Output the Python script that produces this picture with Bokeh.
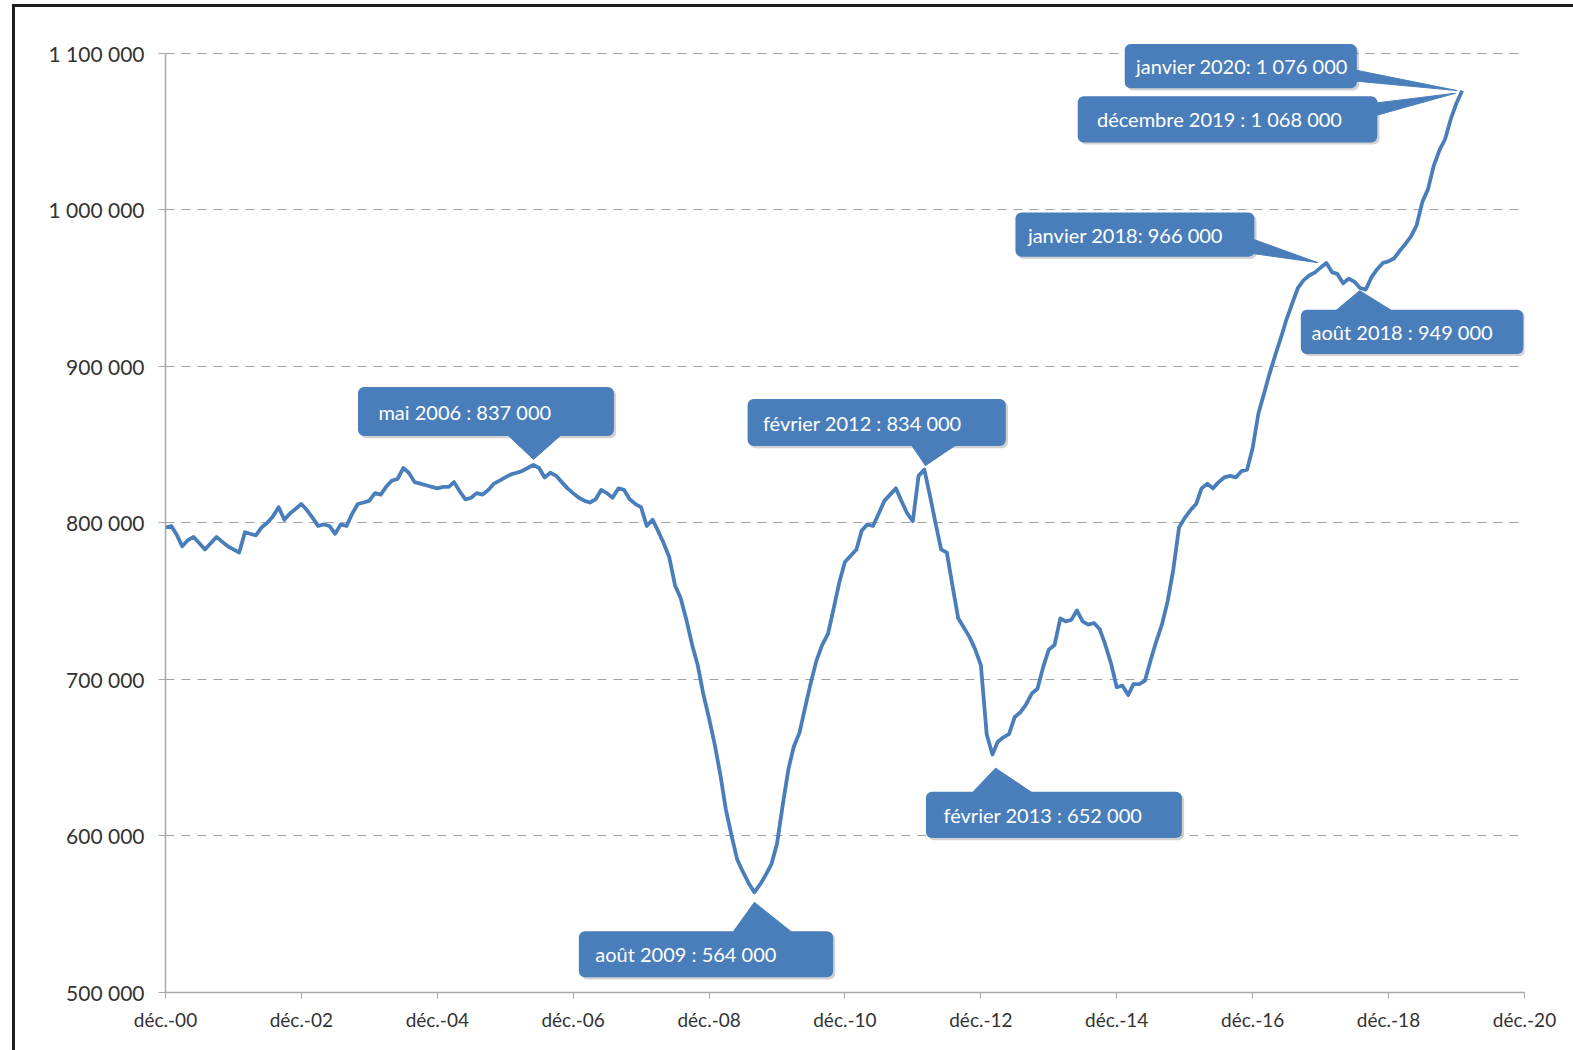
import pandas as pd
from bokeh.plotting import figure
from bokeh.models import Range1d, FixedTicker, BoxAnnotation, ColumnDataSource
from bokeh.core.properties import value
from bokeh.embed import file_html
from bokeh.resources import INLINE

# ---------------- data (monthly, thousands) ----------------
start_month = "2000-12-01"
values_k = [
    797, 798, 792, 785, 789, 791, 787, 783, 787, 791, 788, 785,   # déc 00 - nov 01
    783, 781, 794, 793, 792, 797, 800, 804, 810, 802, 806, 809,   # déc 01 - nov 02
    812, 808, 803, 798, 799, 798, 793, 799, 798, 806, 812, 813,   # déc 02 - nov 03
    814, 819, 818, 823, 827, 828, 835, 832, 826, 825, 824, 823,   # déc 03 - nov 04
    822, 823, 823, 826, 820, 815, 816, 819, 818, 821, 825, 827,   # déc 04 - nov 05
    829, 831, 832, 833, 835, 837, 835, 829, 832, 830, 826, 822,   # déc 05 - nov 06
    819, 816, 814, 813, 815, 821, 819, 816, 822, 821, 815, 812,   # déc 06 - nov 07
    810, 798, 802, 795, 787, 778, 760, 752, 738, 722, 709, 690,   # déc 07 - nov 08
    675, 658, 638, 617, 600, 585, 577, 570, 564, 569, 575, 582,   # déc 08 - nov 09
    595, 620, 643, 657, 666, 682, 698, 712, 722, 729, 745, 762,   # déc 09 - nov 10
    775, 779, 783, 795, 799, 798, 806, 814, 818, 822, 814, 806,   # déc 10 - nov 11
    801, 830, 834, 818, 800, 783, 781, 760, 739, 733, 727, 719,   # déc 11 - nov 12
    709, 665, 652, 660, 663, 665, 676, 679, 684, 691, 694, 708,   # déc 12 - nov 13
    719, 722, 739, 737, 738, 744, 737, 735, 736, 732, 722, 710,   # déc 13 - nov 14
    695, 696, 690, 697, 697, 699, 712, 724, 735, 750, 770, 797,   # déc 14 - nov 15
    803, 808, 812, 822, 825, 822, 826, 829, 830, 829, 833, 834,   # déc 15 - nov 16
    848, 870, 883, 895, 907, 918, 930, 940, 950, 955, 958, 960,   # déc 16 - nov 17
    963, 966, 960, 959, 953, 956, 954, 950, 949, 957, 962, 966,   # déc 17 - nov 18
    967, 969, 974, 978, 983, 990, 1005, 1013, 1028, 1038, 1045, 1058,  # déc 18 - nov 19
    1068, 1076,                                                   # déc 19 - janv 20
]
x_tick_years = [2000, 2002, 2004, 2006, 2008, 2010, 2012, 2014, 2016, 2018, 2020]
x_tick_labels = ["déc.-00", "déc.-02", "déc.-04", "déc.-06", "déc.-08", "déc.-10",
                 "déc.-12", "déc.-14", "déc.-16", "déc.-18", "déc.-20"]
y_ticks = [500000, 600000, 700000, 800000, 900000, 1000000, 1100000]
y_tick_labels = ["500 000", "600 000", "700 000", "800 000", "900 000", "1 000 000", "1 100 000"]

callout_texts = ["mai 2006 : 837 000", "février 2012 : 834 000", "août 2009 : 564 000",
                 "février 2013 : 652 000", "janvier 2020: 1 076 000",
                 "décembre 2019 : 1 068 000", "janvier 2018: 966 000", "août 2018 : 949 000"]

# ---------------- layout of the callouts (months since déc. 2000, thousands) ----------------
box_left = [34.0, 102.8, 73.0, 134.3, 169.4, 161.1, 150.1, 200.5]
box_right = [79.2, 148.4, 117.9, 179.5, 210.4, 214.0, 192.3, 239.8]
box_bottom = [855.4, 849.0, 509.7, 598.7, 1077.6, 1043.0, 970.0, 907.9]
box_top = [886.8, 879.1, 539.2, 628.2, 1105.8, 1072.5, 998.2, 936.1]
text_left = [37.6, 105.5, 75.9, 137.4, 171.4, 164.5, 152.3, 202.4]
pointers = [
    [(60.3, 856.5), (70.0, 856.5), (65.0, 840.5)],
    [(131.7, 850.0), (139.7, 850.0), (134.2, 836.5)],
    [(100.1, 538.0), (110.8, 538.0), (104.0, 557.6)],
    [(142.3, 627.0), (153.3, 627.0), (146.6, 643.3)],
    [(208.5, 1090.4), (208.5, 1082.7), (228.1, 1076.1)],
    [(212.0, 1067.4), (212.0, 1058.4), (227.8, 1074.4)],
    [(190.8, 982.8), (190.8, 972.6), (203.5, 966.2)],
    [(206.5, 935.0), (216.8, 935.0), (210.9, 948.3)],
]

# ---------------- helpers ----------------
MS_DAY = 86400000.0
MONTH_MS = 30.436875 * MS_DAY
t0 = pd.Timestamp(start_month).value / 1e6


def mx(m):
    return t0 + m * MONTH_MS


dates = pd.date_range(start_month, periods=len(values_k), freq="MS")
src = ColumnDataSource(dict(x=dates, y=[v * 1000 for v in values_k]))

x_ticks_ms = [pd.Timestamp(f"{y}-12-01").value / 1e6 for y in x_tick_years]

BLUE = "#4a7ebb"
FONT = "Lato"

p = figure(width=1561, height=1046, x_axis_type="datetime",
           x_range=Range1d(x_ticks_ms[0], x_ticks_ms[-1]),
           y_range=Range1d(500000, 1110000),
           output_backend="svg", toolbar_location=None,
           min_border_left=150, min_border_right=52, min_border_top=30, min_border_bottom=61,
           margin=(4, 0, 0, 12))
p.styles = {"border-left": "3px solid #1e1e1e", "border-top": "3px solid #1e1e1e"}
p.outline_line_color = None
p.background_fill_color = "white"
p.border_fill_color = "white"

# grid
p.xgrid.visible = False
p.ygrid.grid_line_color = "#a0a0a0"
p.ygrid.grid_line_dash = "9 7"
p.ygrid.grid_line_width = 1.2

# y axis
ya = p.yaxis[0]
ya.ticker = FixedTicker(ticks=y_ticks)
ya.major_label_overrides = {t: l for t, l in zip(y_ticks, y_tick_labels)}
ya.bounds = (500000, 1100000)
ya.axis_line_color = "#a8a8a8"
ya.axis_line_width = 1.5
ya.major_tick_line_color = "#a8a8a8"
ya.major_tick_out = 7
ya.major_tick_in = 0
ya.minor_tick_line_color = None
ya.major_label_text_font = FONT
ya.major_label_text_font_size = "21px"
ya.major_label_text_color = "#333333"
ya.major_label_standoff = 14

# x axis
xa = p.xaxis[0]
xa.ticker = FixedTicker(ticks=x_ticks_ms)
xa.major_label_overrides = {t: l for t, l in zip(x_ticks_ms, x_tick_labels)}
xa.axis_line_color = "#a8a8a8"
xa.axis_line_width = 1.5
xa.major_tick_line_color = "#a8a8a8"
xa.major_tick_out = 6
xa.major_tick_in = 0
xa.minor_tick_line_color = None
xa.major_label_text_font = FONT
xa.major_label_text_font_size = "19px"
xa.major_label_text_color = "#333333"
xa.major_label_standoff = 9

# series line
p.line("x", "y", source=src, line_color=BLUE, line_width=3.8, line_join="round")

# callouts
sx, sy = 2.2 * 5.39 * MS_DAY, 2.2 * 640
for i in range(len(callout_texts)):
    shadow = BoxAnnotation(left=mx(box_left[i]) + sx, right=mx(box_right[i]) + sx,
                           bottom=box_bottom[i] * 1000 - sy, top=box_top[i] * 1000 - sy,
                           fill_color="#7f7f7f", fill_alpha=0.35, line_color=None,
                           border_radius=6)
    p.add_layout(shadow)
for i in range(len(callout_texts)):
    box = BoxAnnotation(left=mx(box_left[i]), right=mx(box_right[i]),
                        bottom=box_bottom[i] * 1000, top=box_top[i] * 1000,
                        fill_color=BLUE, fill_alpha=1.0, line_color=None,
                        border_radius=6)
    p.add_layout(box)

ptr = p.patches(xs=[[mx(a) for a, b in tri] for tri in pointers],
                ys=[[b * 1000 for a, b in tri] for tri in pointers],
                fill_color=BLUE, line_color=BLUE, line_width=1)
ptr.level = "overlay"

txt = p.text(x=[mx(m) for m in text_left],
             y=[(b + t) / 2 * 1000 for b, t in zip(box_bottom, box_top)],
             text=callout_texts, text_align="left", text_baseline="middle",
             text_color="white", text_font=value(FONT), text_font_size="20px")
txt.level = "overlay"

open("out.html", "w").write(file_html(p, INLINE))
